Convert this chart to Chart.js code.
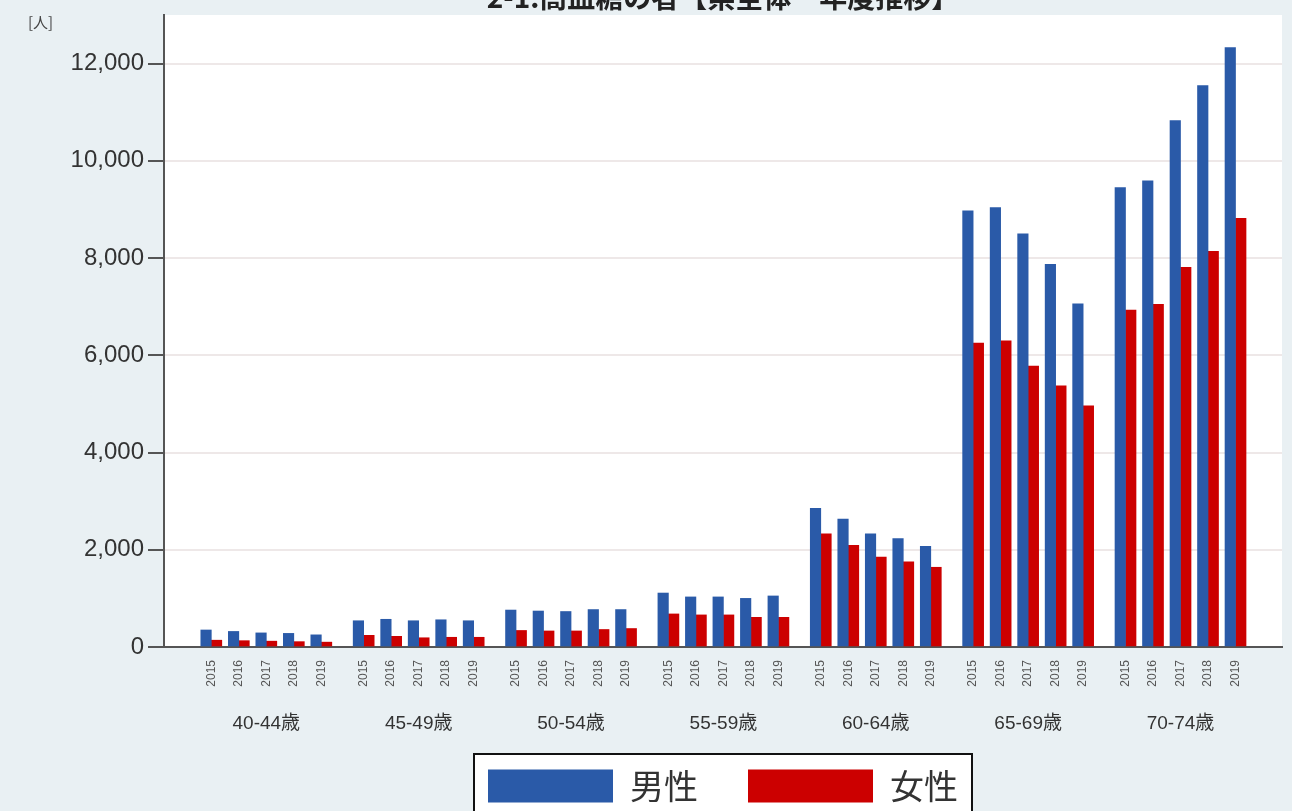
<!DOCTYPE html>
<html lang="ja">
<head>
<meta charset="utf-8">
<title>高血糖の者 県全体 年度推移</title>
<script src="https://cdn.jsdelivr.net/npm/chart.js@4.4.1/dist/chart.umd.min.js"></script>
<style>
    html, body { margin: 0; padding: 0; background: #e9f0f3; overflow: hidden; }
    #marco { position: relative; width: 1292px; height: 811px; overflow: hidden; }
    /* el lienzo sube un poco: el título queda cortado como en el original */
    #grafica { position: absolute; left: 0; top: -24px; }
</style>
</head>
<body>
<div id="marco"><canvas id="grafica" width="1292" height="837"></canvas></div>
<script>
// Datos
const titulo = '2-1.高血糖の者【県全体　年度推移】';
const grupos = ['40-44歳', '45-49歳', '50-54歳', '55-59歳', '60-64歳', '65-69歳', '70-74歳'];
const anios = ['2015', '2016', '2017', '2018', '2019'];
const marcasY = [0, 2000, 4000, 6000, 8000, 10000, 12000];

// 男性: 5 años por grupo de edad
const hombres = [
    350, 320, 290, 280, 250,
    540, 570, 540, 560, 540,
    760, 740, 730, 770, 770,
    1110, 1030, 1030, 1000, 1050,
    2850, 2630, 2330, 2230, 2070,
    8970, 9040, 8500, 7870, 7060,
    9450, 9590, 10830, 11550, 12330
];

// 女性
const mujeres = [
    140, 130, 120, 110, 100,
    240, 220, 190, 200, 200,
    340, 330, 330, 360, 380,
    680, 660, 660, 610, 610,
    2330, 2090, 1850, 1750, 1640,
    6250, 6300, 5780, 5370, 4960,
    6930, 7050, 7810, 8140, 8820
];

// Separación entre grupos (en unidades de año) y rango del eje
const PASO_GRUPO = 5.54;
const X_MIN = -1.72;
const X_MAX = 38.93;
const posX = k => Math.floor(k / anios.length) * PASO_GRUPO + (k % anios.length);

const fuenteLatina = '"Liberation Sans", "Noto Sans CJK JP", sans-serif';
const fuenteJp = '"Noto Sans CJK JP", sans-serif';

// Fondo gris, área blanca, recuadro de la leyenda y la unidad [人]
const fondo = {
    id: 'fondo',
    afterLayout(chart) {
        // que las etiquetas de edad no queden recortadas por la caja del eje
        chart.scales.xGrupo.bottom += 30;
    },
    beforeDraw(chart) {
        const { ctx, chartArea: a, legend } = chart;
        ctx.save();
        ctx.fillStyle = '#e9f0f3';
        ctx.fillRect(0, 0, chart.width, chart.height);
        ctx.fillStyle = '#ffffff';
        ctx.fillRect(a.left, a.top, a.right - a.left, a.bottom - a.top);

        const cajas = legend && legend.legendHitBoxes;
        if (cajas && cajas.length) {
            const ultima = cajas[cajas.length - 1];
            const x0 = cajas[0].left - 14;
            const y0 = cajas[0].top - 15;
            const ancho = ultima.left + ultima.width + 14 - x0;
            const alto = chart.height - y0 + 10;
            ctx.fillRect(x0, y0, ancho, alto);
            ctx.strokeStyle = '#111111';
            ctx.lineWidth = 2;
            ctx.strokeRect(x0, y0, ancho, alto);
        }

        ctx.fillStyle = '#444444';
        ctx.font = '15px ' + fuenteJp;
        ctx.textAlign = 'left';
        ctx.textBaseline = 'middle';
        ctx.fillText('[人]', 28, a.top + 7);
        ctx.restore();
    }
};

const ctxBarras = document.getElementById('grafica').getContext('2d');
new Chart(ctxBarras, {
    type: 'bar',
    data: {
        datasets: [{
            label: '男性',
            data: hombres.map((v, k) => ({ x: posX(k), y: v })),
            backgroundColor: '#2a5aa8',
            barThickness: 10.5
        }, {
            label: '女性',
            data: mujeres.map((v, k) => ({ x: posX(k), y: v })),
            backgroundColor: '#cc0000',
            barThickness: 10.5
        }]
    },
    options: {
        responsive: false,
        animation: false,
        layout: { padding: { left: 0, right: 10, top: 0, bottom: 0 } },
        plugins: {
            title: {
                display: true,
                text: titulo,
                fullSize: false,
                color: '#222222',
                font: { family: fuenteJp, size: 28, weight: 'bold' },
                padding: { top: 5, bottom: 0.4 }
            },
            legend: {
                position: 'bottom',
                fullSize: false,
                labels: {
                    boxWidth: 125,
                    boxHeight: 33,
                    padding: 50,
                    color: '#333333',
                    font: { family: fuenteJp, size: 34 }
                }
            },
            tooltip: { enabled: false }
        },
        scales: {
            x: {
                type: 'linear',
                position: 'bottom',
                weight: 0,
                min: X_MIN,
                max: X_MAX,
                offset: false,
                afterBuildTicks: s => { s.ticks = hombres.map((v, k) => ({ value: posX(k) })); },
                afterFit: s => { s.height = 40; },
                ticks: {
                    autoSkip: false,
                    minRotation: 90,
                    maxRotation: 90,
                    padding: 13,
                    color: '#555555',
                    font: { family: fuenteLatina, size: 12 },
                    callback: (valor, i) => anios[i % anios.length]
                },
                grid: { drawOnChartArea: false, drawTicks: false, offset: false },
                border: { color: '#555555', width: 2 }
            },
            xGrupo: {
                type: 'linear',
                position: 'bottom',
                weight: 1,
                min: X_MIN,
                max: X_MAX,
                offset: false,
                afterBuildTicks: s => { s.ticks = grupos.map((g, i) => ({ value: i * PASO_GRUPO + 2 })); },
                afterFit: s => { s.height = 32; },
                ticks: {
                    autoSkip: false,
                    minRotation: 0,
                    maxRotation: 0,
                    padding: 25,
                    color: '#333333',
                    font: { family: fuenteLatina, size: 19 },
                    callback: (valor, i) => grupos[i]
                },
                grid: { display: false, drawTicks: false },
                border: { display: false }
            },
            y: {
                min: 0,
                max: 13000,
                afterFit: s => { s.width = 164; },
                afterBuildTicks: s => { s.ticks = marcasY.map(v => ({ value: v })); },
                ticks: {
                    color: '#333333',
                    padding: 4,
                    font: { family: fuenteLatina, size: 24 }
                },
                grid: {
                    color: c => (c.tick && c.tick.value === 0) ? 'rgba(0,0,0,0)' : '#eee8e8',
                    lineWidth: 2,
                    tickColor: '#555555',
                    tickLength: 16,
                    tickWidth: 2
                },
                border: { color: '#555555', width: 2 }
            }
        }
    },
    plugins: [fondo]
});
</script>
</body>
</html>
